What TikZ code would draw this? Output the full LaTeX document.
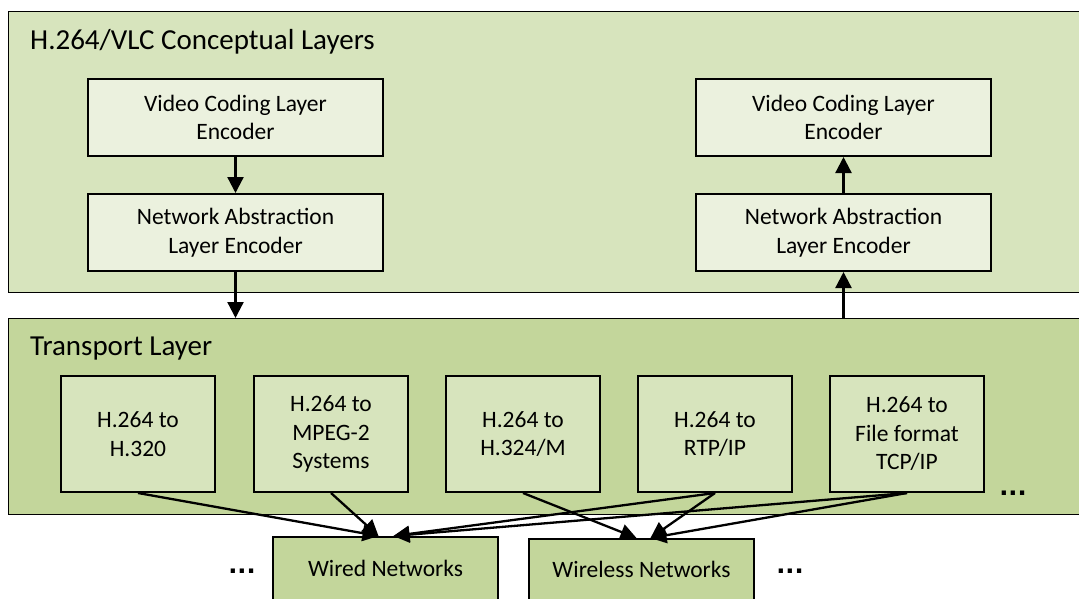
\documentclass[tikz,border=0pt]{standalone}
\usepackage{fontspec}
\setmainfont{Carlito}
\newfontfamily\dotsfont{DejaVu Sans}
\usetikzlibrary{arrows.meta}
\definecolor{layerbg}{RGB}{215,228,189}
\definecolor{boxlight}{RGB}{235,241,222}
\definecolor{transbg}{RGB}{195,214,155}
\definecolor{transbox}{RGB}{215,228,189}
\newcommand\unitfont{\fontsize{23.5}{28.5}\selectfont}
\newcommand\titlefont{\fontsize{29}{34}\selectfont}
\begin{document}
\begin{tikzpicture}[x=1pt,y=-1pt,
  layer/.style={draw=black, line width=1.4pt, rectangle, anchor=north west, inner sep=0pt},
  unit/.style={draw=black, line width=2pt, rectangle, anchor=north west, align=center,
    font=\unitfont, inner sep=0pt},
  layertitle/.style={anchor=base west, font=\titlefont, inner sep=0pt},
  more/.style={font=\dotsfont\bfseries\fontsize{24}{26}\selectfont, inner sep=0pt},
  link/.style={line width=2.3pt, -{Triangle[length=16pt,width=16pt]}}]
\clip (0,0) rectangle (1079,599);
\fill[white] (0,0) rectangle (1079,599);

% the two layers
\node[layer, fill=layerbg, minimum width=1077pt, minimum height=281pt] (concept) at (8,11) {};
\node[layertitle] (ttlA) at (30,50) {H.264/VLC Conceptual Layers};
\node[layer, fill=transbg, minimum width=1077pt, minimum height=196pt] (trans) at (8,318) {};
\node[layertitle] (ttlB) at (30,355) {Transport Layer};

% encoder stacks
\node[unit, fill=boxlight, minimum width=295pt, minimum height=77pt] (vclL) at (87,78) {Video Coding Layer\\Encoder};
\node[unit, fill=boxlight, minimum width=295pt, minimum height=77pt] (nalL) at (87,193) {Network Abstraction\\Layer Encoder};
\node[unit, fill=boxlight, minimum width=295pt, minimum height=77pt] (vclR) at (695,78) {Video Coding Layer\\Encoder};
\node[unit, fill=boxlight, minimum width=295pt, minimum height=77pt] (nalR) at (695,193) {Network Abstraction\\Layer Encoder};

% transport mappings
\node[unit, fill=transbox, minimum width=154pt, minimum height=116pt] (t1) at (60,375) {H.264 to\\H.320};
\node[unit, fill=transbox, minimum width=154pt, minimum height=116pt] (t2) at (253,375) {H.264 to\\MPEG-2\\Systems};
\node[unit, fill=transbox, minimum width=154pt, minimum height=116pt] (t3) at (445,375) {H.264 to\\H.324/M};
\node[unit, fill=transbox, minimum width=154pt, minimum height=116pt] (t4) at (637,375) {H.264 to\\RTP/IP};
\node[unit, fill=transbox, minimum width=154pt, minimum height=116pt] (t5) at (829,375) {H.264 to\\File format\\TCP/IP};
\node[more] (dotsT) at (1013,493) {...};

% networks
\node[unit, fill=transbg, minimum width=225pt, minimum height=67pt, text height=17pt, text depth=6pt] (wired) at (272,536) {Wired Networks};
\node[unit, fill=transbg, minimum width=225pt, minimum height=65pt, text height=17pt, text depth=6pt] (wireless) at (528,538) {Wireless Networks};
\node[more] (dotsL) at (242,571) {...};
\node[more] (dotsR) at (790,571) {...};

% connectors in the encoder stacks
\draw[link] (vclL.south) -- (nalL.north);
\draw[link] (nalL.south) -- (nalL.south |- trans.north);
\draw[link] (nalR.south |- trans.north) -- (nalR.south);
\draw[link] (nalR.north) -- (vclR.south);

% connectors to the networks
\draw[link] (t1.south) -- ([xshift=-7pt]wired.north);
\draw[link] (t2.south) -- ([xshift=-7pt]wired.north);
\draw[link] (t4.south) -- ([xshift=8pt]wired.north);
\draw[link] (t5.south) -- ([xshift=8pt]wired.north);
\draw[link] (t3.south) -- ([xshift=-5pt]wireless.north);
\draw[link] (t4.south) -- ([xshift=9pt]wireless.north);
\draw[link] (t5.south) -- ([xshift=9pt]wireless.north);
\end{tikzpicture}
\end{document}
